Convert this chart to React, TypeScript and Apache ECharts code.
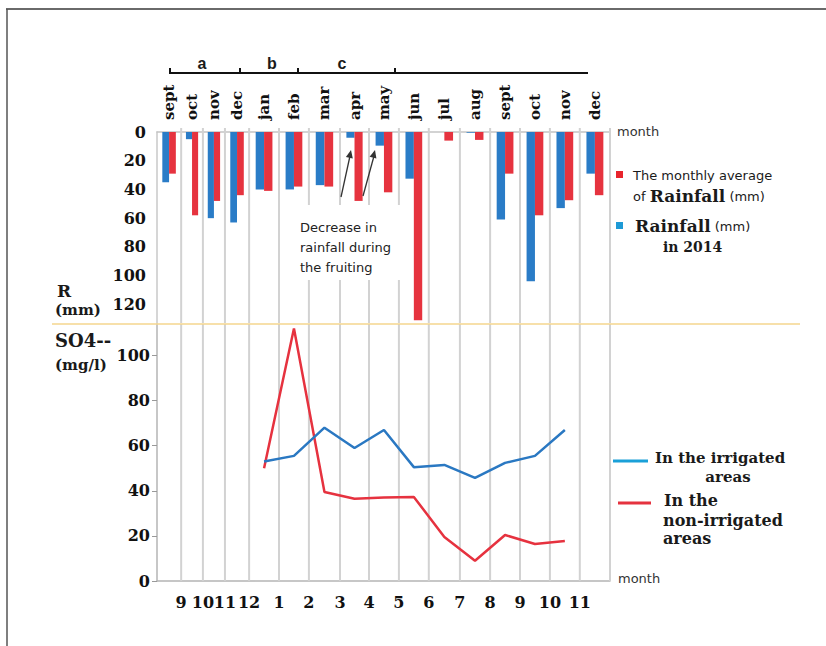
import React, { useEffect, useRef } from "react";
import * as echarts from "echarts";

// ---- data ----
const monthLabels = ["sept", "oct", "nov", "dec", "jan", "feb", "mar", "apr", "may", "jun", "jul", "aug", "sept", "oct", "nov", "dec"];
// month boundaries along the time axis (the first four months are compressed in the original figure)
const monthBounds = [0, 0.8, 1.52, 2.25, 3.05, 4.04, 5.03, 6.06, 7.02, 8.01, 9, 10.03, 11.03, 12.02, 13.01, 14, 15];
const rainfall2014 = [35, 5, 60, 63, 40, 40, 37, 4, 9.5, 32.5, 0, 0.5, 61, 104, 53, 29];
const avgRainfall = [29, 58, 48, 44, 41, 38, 38, 48, 42, 131, 6, 5.5, 29, 58, 47.5, 44];
const so4Months = [4, 5, 6, 7, 8, 9, 10, 11, 12, 13, 14]; // jan .. nov (index into monthLabels)
const so4Irrigated = [53, 55.5, 68, 59, 67, 50.5, 51.5, 45.7, 52.4, 55.5, 67];
const so4NonIrrigated = [50, 112, 39.5, 36.5, 37, 37.3, 19.5, 9, 20.4, 16.4, 17.7];
const bottomTickLabels = ["9", "10", "11", "12", "1", "2", "3", "4", "5", "6", "7", "8", "9", "10", "11"];

const SERIF = "DejaVu Serif";
const SANS = "DejaVu Sans";

function gridLines(gi: number, extraTop: number) {
  return {
    type: "custom",
    xAxisIndex: gi,
    yAxisIndex: gi,
    silent: true,
    z: 1,
    data: monthBounds.slice(1).map((b) => [b, 0]),
    encode: { x: 0, y: 1 },
    renderItem: (params: any, api: any) => {
      const cs = params.coordSys;
      const x = api.coord([api.value(0), 0])[0];
      return {
        type: "line",
        shape: { x1: x, y1: cs.y - extraTop, x2: x, y2: cs.y + cs.height },
        style: { stroke: "#d2d2d2", lineWidth: 2 },
      };
    },
  };
}

function barSeries(name: string, values: number[], side: number, color: string) {
  return {
    type: "custom",
    name,
    xAxisIndex: 0,
    yAxisIndex: 0,
    z: 3,
    data: values.map((v, i) => [i, v]),
    encode: { x: 0, y: 1 },
    renderItem: (params: any, api: any) => {
      const i = api.value(0);
      const v = api.value(1);
      const left = api.coord([monthBounds[i], 0])[0];
      const right = api.coord([monthBounds[i + 1], 0])[0];
      const w = (right - left) * 0.28;
      const c = (left + right) / 2;
      const y0 = api.coord([0, 0])[1];
      const y1 = api.coord([0, v])[1];
      return {
        type: "rect",
        shape: { x: side < 0 ? c - w : c, y: Math.min(y0, y1), width: w, height: Math.abs(y1 - y0) },
        style: { fill: color },
      };
    },
  };
}

export default function App() {
  const ref = useRef<HTMLDivElement>(null);
  useEffect(() => {
    if (!ref.current) return;
    const chart = echarts.init(ref.current, undefined, { renderer: "svg" });
    const txt = (text: string, x: number, y: number, font: any, extra: any = {}) => ({
      type: "text",
      x,
      y,
      z: 60,
      style: { text, fill: "#1a1a1a", align: "left", verticalAlign: "middle", ...font, ...extra },
    });
    const serifB = (size: number) => ({ fontFamily: SERIF, fontWeight: "bold", fontSize: size });
    const sans = (size: number) => ({ fontFamily: SANS, fontSize: size });
    const line = (x1: number, y1: number, x2: number, y2: number, stroke: string, lineWidth: number, z = 55) => ({
      type: "line",
      z,
      shape: { x1, y1, x2, y2 },
      style: { stroke, lineWidth },
    });

    const option: any = {
      animation: false,
      backgroundColor: "#ffffff",
      grid: [
        { left: 157, top: 132, width: 453, height: 191 },
        { left: 157, top: 324, width: 453, height: 257 },
      ],
      xAxis: [
        {
          gridIndex: 0, type: "value", min: 0, max: 15, position: "top",
          axisLine: { show: true, lineStyle: { color: "#c4c4c4", width: 1.5 } },
          axisTick: { show: false }, axisLabel: { show: false }, splitLine: { show: false },
        },
        {
          gridIndex: 1, type: "value", min: 0, max: 15,
          axisLine: { show: true, lineStyle: { color: "#b4b4b4", width: 1.5 } },
          axisTick: { show: false }, axisLabel: { show: false }, splitLine: { show: false },
        },
      ],
      yAxis: [
        {
          gridIndex: 0, type: "value", inverse: true, min: 0, max: 133, interval: 20,
          axisLine: { show: true, onZero: false, lineStyle: { color: "#c8c8c8", width: 1.5 } },
          axisTick: { show: false },
          axisLabel: { showMaxLabel: false, margin: 11, color: "#111", fontFamily: SERIF, fontWeight: "bold", fontSize: 16 },
          splitLine: { show: false },
        },
        {
          gridIndex: 1, type: "value", min: 0, max: 114, interval: 20,
          axisLine: { show: true, onZero: false, lineStyle: { color: "#b4b4b4", width: 1.5 } },
          axisTick: { show: true, length: 5, lineStyle: { color: "#999" } },
          axisLabel: { showMaxLabel: false, margin: 7, color: "#111", fontFamily: SERIF, fontWeight: "bold", fontSize: 16 },
          splitLine: { show: false },
        },
      ],
      series: [
        gridLines(0, 4),
        gridLines(1, 0),
        barSeries("Rainfall (mm) in 2014", rainfall2014, -1, "#2a7cc7"),
        barSeries("The monthly average of Rainfall (mm)", avgRainfall, 1, "#e6333f"),
        {
          type: "custom",
          name: "months",
          xAxisIndex: 0,
          yAxisIndex: 0,
          silent: true,
          data: monthLabels.map((m, i) => [i, 0]),
          encode: { x: 0, y: 1 },
          renderItem: (params: any, api: any) => {
            const i = api.value(0);
            const cs = params.coordSys;
            const left = api.coord([monthBounds[i], 0])[0];
            const right = api.coord([monthBounds[i + 1], 0])[0];
            return {
              type: "text",
              x: (left + right) / 2,
              y: cs.y - 12,
              rotation: Math.PI / 2,
              style: {
                text: monthLabels[i], fill: "#111", align: "left", verticalAlign: "middle",
                fontFamily: SERIF, fontWeight: "bold", fontSize: 15,
              },
            };
          },
        },
        {
          type: "custom",
          name: "ticks",
          xAxisIndex: 1,
          yAxisIndex: 1,
          silent: true,
          data: bottomTickLabels.map((t, k) => [monthBounds[k + 1], 0, k]),
          encode: { x: 0, y: 1 },
          renderItem: (params: any, api: any) => {
            const cs = params.coordSys;
            const x = api.coord([api.value(0), 0])[0];
            const k = api.value(2);
            return {
              type: "text",
              x,
              y: cs.y + cs.height + 21,
              style: {
                text: bottomTickLabels[k], fill: "#111", align: "center", verticalAlign: "middle",
                fontFamily: SERIF, fontWeight: "bold", fontSize: 16,
              },
            };
          },
        },
        {
          type: "line",
          name: "In the non-irrigated areas",
          xAxisIndex: 1,
          yAxisIndex: 1,
          z: 4,
          showSymbol: false,
          data: so4Months.map((m, k) => [(monthBounds[m] + monthBounds[m + 1]) / 2, so4NonIrrigated[k]]),
          lineStyle: { color: "#e6323f", width: 2.5 },
          itemStyle: { color: "#e6323f" },
        },
        {
          type: "line",
          name: "In the irrigated areas",
          xAxisIndex: 1,
          yAxisIndex: 1,
          z: 5,
          showSymbol: false,
          data: so4Months.map((m, k) => [(monthBounds[m] + monthBounds[m + 1]) / 2, so4Irrigated[k]]),
          lineStyle: { color: "#2a78c2", width: 2.5 },
          itemStyle: { color: "#2a78c2" },
        },
      ],
      graphic: [
        // frame
        line(6, 9, 826, 9, "#6a6a6a", 2),
        line(7, 9, 7, 646, "#555555", 1.5),
        // separator
        line(52, 324, 800, 324, "#f4d68e", 1.5),
        // period bracket
        line(170, 73, 588, 73, "#111111", 2),
        line(170, 68, 170, 74, "#111111", 2),
        line(240, 68, 240, 74, "#111111", 2),
        line(298, 68, 298, 74, "#111111", 2),
        line(395, 68, 395, 74, "#111111", 2),
        txt("a", 202, 63, { fontFamily: "Liberation Sans", fontWeight: "bold", fontSize: 16 }, { align: "center" }),
        txt("b", 272, 63, { fontFamily: "Liberation Sans", fontWeight: "bold", fontSize: 16 }, { align: "center" }),
        txt("c", 342, 63, { fontFamily: "Liberation Sans", fontWeight: "bold", fontSize: 16 }, { align: "center" }),
        // axis titles
        txt("R", 57, 291, serifB(17)),
        txt("(mm)", 55, 310, serifB(15)),
        txt("SO4--", 55, 340, serifB(18)),
        txt("(mg/l)", 55, 365, serifB(15)),
        txt("month", 617, 131, sans(13), { fill: "#333" }),
        txt("month", 618, 578, sans(13), { fill: "#333" }),
        // top legend
        { type: "rect", z: 60, shape: { x: 616, y: 171, width: 7, height: 7 }, style: { fill: "#e8242c" } },
        txt("The monthly average", 633, 175, sans(13)),
        txt("{s|of }{b|Rainfall}{s| (mm)}", 633, 196, {}, {
          rich: {
            s: { fontFamily: SANS, fontSize: 13, fill: "#1a1a1a" },
            b: { fontFamily: SERIF, fontWeight: "bold", fontSize: 17, fill: "#1a1a1a" },
          },
        }),
        { type: "rect", z: 60, shape: { x: 616, y: 222, width: 7, height: 7 }, style: { fill: "#1e9ad6" } },
        txt("{b|Rainfall}{s| (mm)}", 635, 226, {}, {
          rich: {
            s: { fontFamily: SANS, fontSize: 13, fill: "#1a1a1a" },
            b: { fontFamily: SERIF, fontWeight: "bold", fontSize: 17, fill: "#1a1a1a" },
          },
        }),
        txt("in 2014", 663, 247, serifB(14)),
        // bottom legend
        line(613, 461, 648, 461, "#1aa0d8", 3),
        txt("In the irrigated", 655, 458, serifB(15)),
        txt("areas", 728, 477, serifB(15), { align: "center" }),
        line(618, 503, 651, 503, "#e5323f", 3),
        txt("In the", 664, 500, serifB(16)),
        txt("non-irrigated", 663, 520, serifB(16)),
        txt("areas", 663, 538, serifB(16)),
        // annotation
        { type: "rect", z: 50, shape: { x: 296, y: 205, width: 108, height: 75 }, style: { fill: "#ffffff" } },
        txt("Decrease in", 300, 227, sans(13), { fill: "#222" }),
        txt("rainfall during", 300, 247, sans(13), { fill: "#222" }),
        txt("the fruiting", 300, 267, sans(13), { fill: "#222" }),
        line(341, 197, 350, 156, "#333333", 1.3),
        { type: "polygon", z: 55, shape: { points: [[351, 150], [352.8, 158.5], [345.9, 157.1]] }, style: { fill: "#333" } },
        line(363, 196, 374, 156, "#333333", 1.3),
        { type: "polygon", z: 55, shape: { points: [[375, 150], [376.4, 158.6], [369.6, 156.8]] }, style: { fill: "#333" } },
      ],
    };
    chart.setOption(option);
    return () => chart.dispose();
  }, []);
  return <div ref={ref} style={{ position: "fixed", left: 0, top: 0, width: 826, height: 646 }} />;
}
